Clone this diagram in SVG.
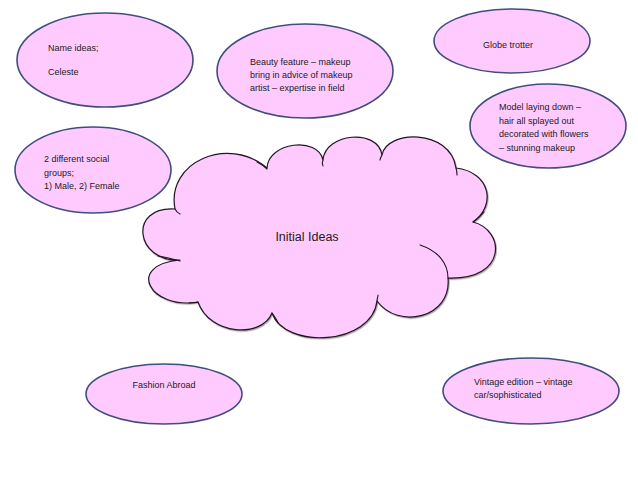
<svg xmlns="http://www.w3.org/2000/svg" width="638" height="479" viewBox="0 0 638 479">
<style>
.bub{fill:#ffcbff;stroke:#3f4e7e;stroke-width:1.6}
.cloud{fill:#ffcbff;stroke:#241424;stroke-width:1.2;stroke-linejoin:round}
.crease{fill:none;stroke:#241424;stroke-width:1.1;stroke-linecap:round}
text{font-family:"Liberation Sans",Arial,sans-serif;font-size:9px;fill:#231a23}
.mid{text-anchor:middle}
.big{font-size:12.5px}
</style>
<defs>
<filter id="sh" x="-10%" y="-10%" width="120%" height="120%">
<feDropShadow dx="0.8" dy="1.2" stdDeviation="0.6" flood-color="#000" flood-opacity="0.35"/>
</filter>
</defs>
<rect width="638" height="479" fill="#ffffff"/>
<g id="connectors"></g>
<g id="name-ideas">
<ellipse class="bub" cx="105" cy="60" rx="88" ry="47"/>
<text x="48" y="51">Name ideas;</text>
<text x="48" y="75">Celeste</text>
</g>
<g id="beauty">
<ellipse class="bub" cx="305" cy="71" rx="88" ry="47"/>
<text x="250" y="65">Beauty feature – makeup</text>
<text x="250" y="78">bring in advice of makeup</text>
<text x="250" y="91">artist – expertise in field</text>
</g>
<g id="globe">
<ellipse class="bub" cx="512" cy="41" rx="78" ry="32"/>
<text class="mid" x="508" y="48">Globe trotter</text>
</g>
<g id="model">
<ellipse class="bub" cx="548" cy="126" rx="78" ry="42"/>
<text x="499" y="110">Model laying down –</text>
<text x="499" y="123.5">hair all splayed out</text>
<text x="499" y="137">decorated with flowers</text>
<text x="499" y="150.5">– stunning makeup</text>
</g>
<g id="social">
<ellipse class="bub" cx="93" cy="170" rx="78" ry="43"/>
<text x="44" y="162">2 different social</text>
<text x="44" y="176">groups;</text>
<text x="44" y="189">1) Male, 2) Female</text>
</g>
<g id="initial-ideas">
<path class="cloud" filter="url(#sh)" d="M175,209 C166,162 228,135 267,168 C268,142 318,136 323,160 C325,133 378,128 382,155 C386,130 450,128 456,168 C490,172 497,205 473,222 C505,230 508,280 448,278 C452,318 398,330 377,301 C372,345 285,350 272,313 C262,338 210,336 198,302 C150,310 125,265 180,260 C135,262 128,206 175,209 Z"/>
<path class="crease" d="M175,209 C176,211 178,213 180,214"/>
<path class="crease" d="M257,162 C261,164 264,166 267,169"/>
<path class="crease" d="M323,160 C322,162 322,164 323,166"/>
<path class="crease" d="M382,155 C381,157 380,159 380,160"/>
<path class="crease" d="M456,168 C457,171 457,173 457,175"/>
<path class="crease" d="M473,222 C477,219 481,216 484,212"/>
<path class="crease" d="M420,245 C438,251 448,263 448,278"/>
<path class="crease" d="M377,301 C377,299 378,297 378,295"/>
<path class="crease" d="M272,313 C275,317 277,320 278,323"/>
<path class="crease" d="M198,302 C195,303 192,303 189,303"/>
<path class="crease" d="M158,256 C166,257 173,259 180,261"/>
<text class="mid big" x="307" y="241">Initial Ideas</text>
</g>
<g id="fashion">
<ellipse class="bub" cx="164" cy="394" rx="78" ry="30"/>
<text class="mid" x="164" y="388">Fashion Abroad</text>
</g>
<g id="vintage">
<ellipse class="bub" cx="531" cy="391" rx="88" ry="33"/>
<text x="474" y="385">Vintage edition – vintage</text>
<text x="474" y="398">car/sophisticated</text>
</g>
</svg>
